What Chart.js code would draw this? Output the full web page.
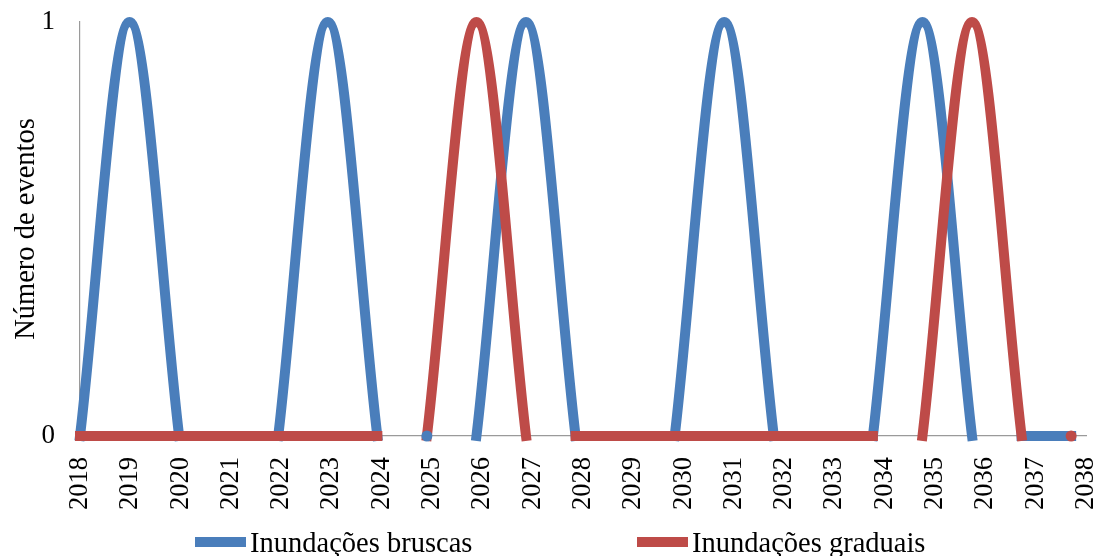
<!DOCTYPE html>
<html>
<head>
<meta charset="utf-8">
<script src="https://cdn.jsdelivr.net/npm/chart.js@4.4.1/dist/chart.umd.min.js"></script>
<style>
html,body{margin:0;padding:0;background:#fff;}
#wrap{width:1094px;height:556px;position:relative;}
canvas{display:block;}
</style>
</head>
<body>
<div id="wrap"><canvas id="c" width="1094" height="556"></canvas></div>
<script>
// ---- data ----
const years = ['2018','2019','2020','2021','2022','2023','2024','2025','2026','2027','2028',
               '2029','2030','2031','2032','2033','2034','2035','2036','2037','2038'];
const seriesNames = ['Inundações bruscas', 'Inundações graduais'];
const blueValues = [0,1,0,0,0,1,0,0,0,1,0,0,0,1,0,0,0,1,0,0,0];
const redValues  = [0,0,0,0,0,0,0,0,1,0,0,0,0,0,0,0,0,0,1,0,0];
// runs of points that are drawn as one connected (smoothed) line
const bluePieces = [[0,2],[4,6],[7,7],[8,10],[12,14],[16,18],[19,20]];
const redPieces  = [[0,6],[7,9],[10,16],[17,19],[20,20]];
const yTickValues = [0, 1];
const yTitle = 'Número de eventos';

const BLUE = '#4a7ebb';
const RED = '#be4b48';
const FONT = "'Liberation Serif', 'Times New Roman', serif";

function buildPieces(values, pieces, color, name, order) {
  return pieces.map(([a, b], k) => ({
    label: name,
    seriesFirst: k === 0,
    data: values.slice(a, b + 1).map((v, j) => ({ x: a + j, y: v })),
    borderColor: color,
    backgroundColor: color,
    borderWidth: 10,
    borderCapStyle: 'square',
    borderJoinStyle: 'round',
    tension: 0.35,
    pointRadius: a === b ? 5.5 : 0,
    pointHoverRadius: 0,
    pointBorderWidth: 0,
    pointBackgroundColor: color,
    fill: false,
    clip: false,
    xAxisID: 'xd',
    yAxisID: 'y',
    order: a === b ? -1 : order
  }));
}

const datasets = [
  ...buildPieces(blueValues, bluePieces, BLUE, seriesNames[0], 1),
  ...buildPieces(redValues, redPieces, RED, seriesNames[1], 0)
];

const manualLegend = {
  id: 'manualLegend',
  afterDraw(chart) {
    const ctx = chart.ctx;
    const items = [
      { name: seriesNames[0], color: BLUE, bx: 195, tx: 250 },
      { name: seriesNames[1], color: RED, bx: 637, tx: 692 }
    ];
    ctx.save();
    ctx.font = '28.5px ' + FONT;
    ctx.textBaseline = 'alphabetic';
    ctx.textAlign = 'left';
    items.forEach(it => {
      ctx.fillStyle = it.color;
      ctx.fillRect(it.bx, 537, 51, 10);
      ctx.fillStyle = '#000';
      ctx.fillText(it.name, it.tx, 552);
    });
    ctx.restore();
  }
};

new Chart(document.getElementById('c'), {
  type: 'line',
  data: { labels: years, datasets },
  options: {
    responsive: false,
    animation: false,
    devicePixelRatio: 1,
    layout: { padding: { top: 22, right: 8, left: 0, bottom: 0 } },
    plugins: { legend: { display: false }, tooltip: { enabled: false } },
    scales: {
      x: {
        type: 'category',
        position: 'bottom',
        offset: false,
        grid: { display: false, drawTicks: false },
        border: { display: true, color: '#9a9a9a', width: 1.2 },
        ticks: {
          autoSkip: false, maxRotation: 90, minRotation: 90, padding: 21,
          color: '#000', font: { family: FONT, size: 26.5 }
        },
        afterFit(s) { s.height = 120; s.paddingLeft = 0; s.paddingRight = 0; }
      },
      xd: {
        type: 'linear',
        display: false,
        min: 0,
        max: 20.3
      },
      y: {
        type: 'linear',
        min: yTickValues[0],
        max: yTickValues[yTickValues.length - 1],
        afterBuildTicks(s) { s.ticks = yTickValues.map(v => ({ value: v })); },
        grid: { display: false, drawTicks: false },
        border: { display: true, color: '#9a9a9a', width: 1.2 },
        ticks: { padding: 25, color: '#000', font: { family: FONT, size: 27 } },
        title: {
          display: true, text: yTitle, color: '#000',
          font: { family: FONT, size: 28.5 }, padding: { top: 9, bottom: 0 }
        },
        afterFit(s) { s.width = 80; s.paddingTop = 0; s.paddingBottom = 0; }
      }
    }
  },
  plugins: [manualLegend]
});
</script>
</body>
</html>
